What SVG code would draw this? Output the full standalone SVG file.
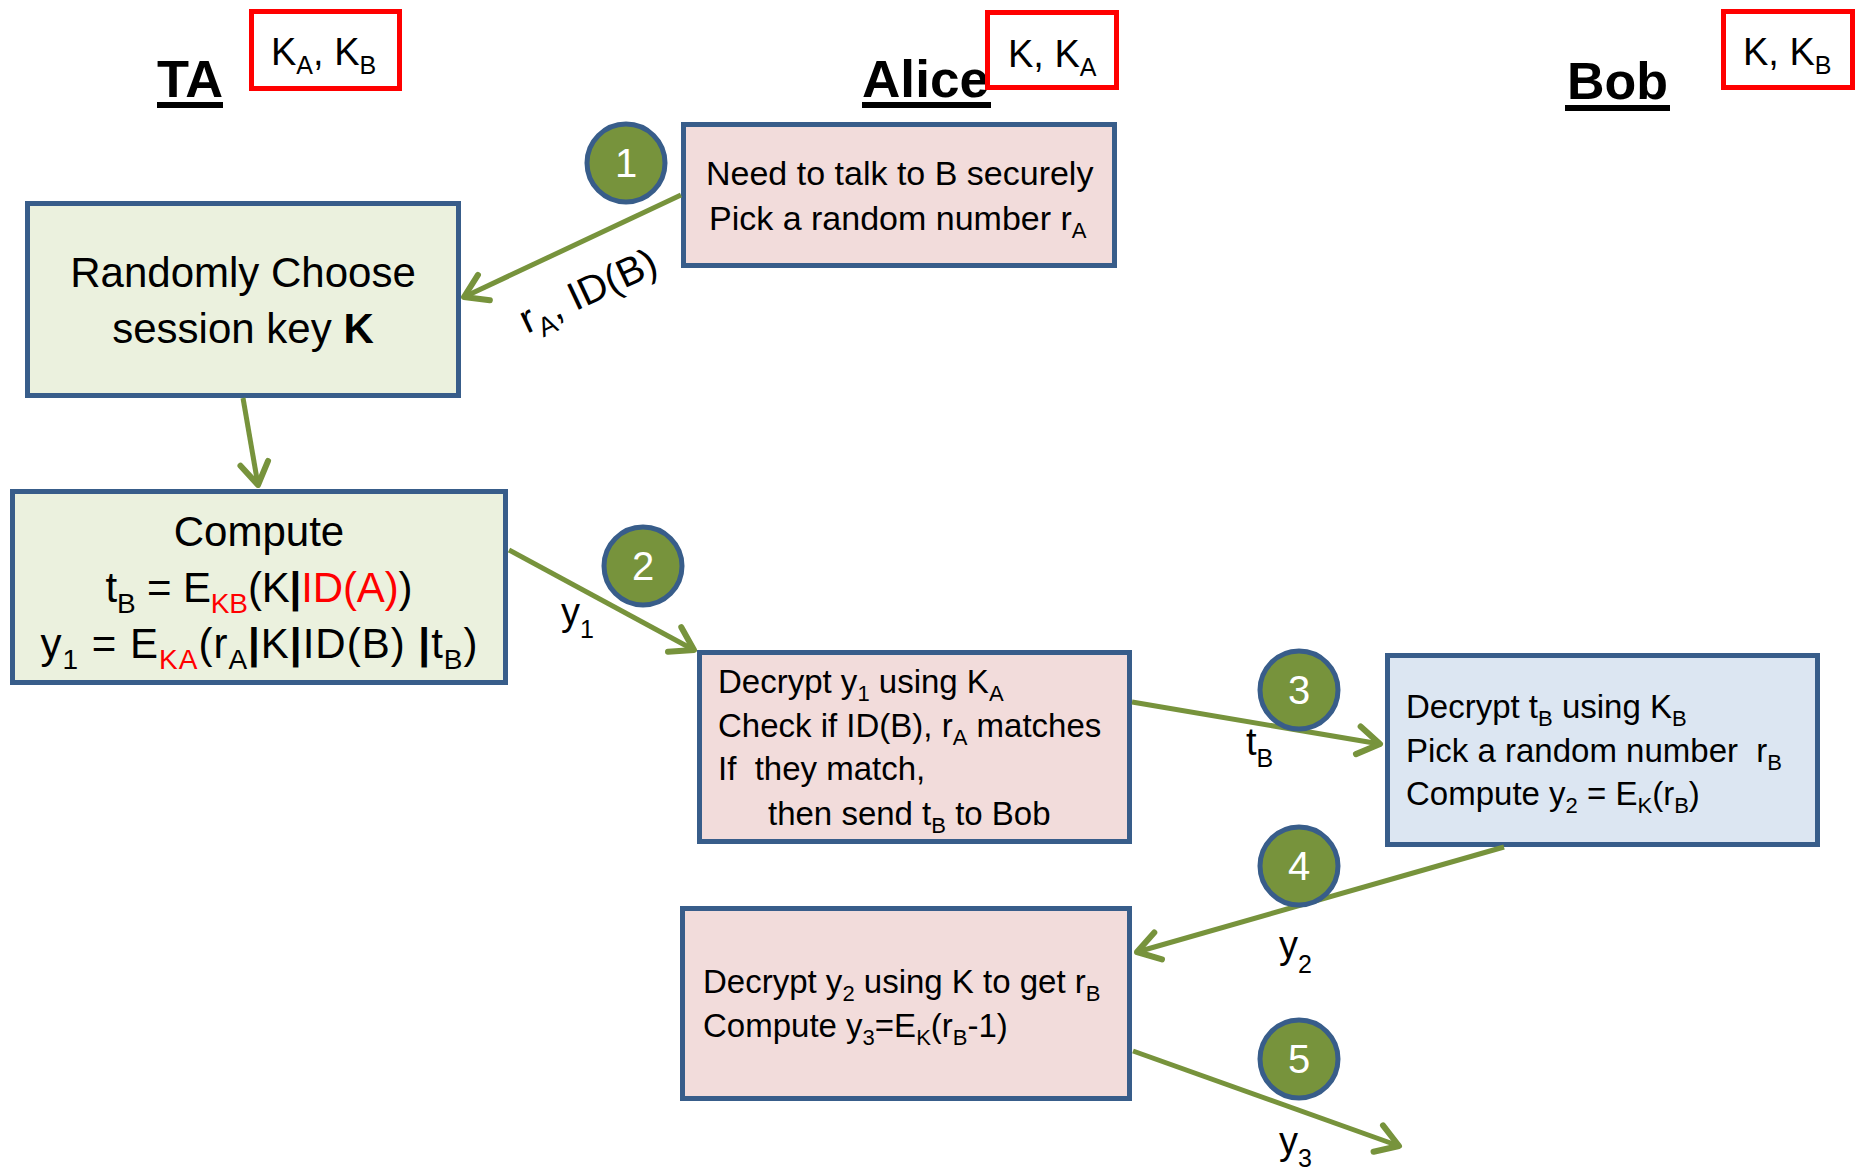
<svg xmlns="http://www.w3.org/2000/svg" width="1860" height="1170" viewBox="0 0 1860 1170">
  <style>
    text { font-family: "Liberation Sans", Arial, sans-serif; fill: #000; }
    .title { font-size: 52px; font-weight: bold; }
    .key { font-size: 38px; }
    .keysub { font-size: 25px; }
    .big { font-size: 42px; }
    .bigsub { font-size: 28px; }
    .body { font-size: 33px; }
    .body34 { font-size: 34px; }
    .sub { font-size: 22px; }
    .lbl { font-size: 38px; }
    .lblsub { font-size: 25px; }
    .diag { font-size: 40px; }
    .diagsub { font-size: 27px; }
    .red { fill: #FF0000; }
    .bar { font-weight: bold; }
    .num { font-size: 40px; fill: #FFFFFF; text-anchor: middle; }
    .keybox { fill: #FFFFFF; stroke: #FF0000; stroke-width: 5; }
    .box { stroke: #385D8A; stroke-width: 5; }
    .ta { fill: #EBF1DE; }
    .alice { fill: #F2DCDB; }
    .bob { fill: #DCE6F2; }
    .step { fill: #77933C; stroke: #385D8A; stroke-width: 5; }
    .flow { fill: none; stroke: #77933C; stroke-width: 5; marker-end: url(#arr); }
  </style>
  <defs>
    <marker id="arr" markerUnits="userSpaceOnUse" viewBox="-30 -20 36 40" refX="0" refY="0" markerWidth="36" markerHeight="40" orient="auto" overflow="visible">
      <path d="M-22,-14 L0,0 L-22,14" fill="none" stroke="#77933C" stroke-width="6" stroke-linecap="round" stroke-linejoin="round"/>
    </marker>
  </defs>

  <rect width="1860" height="1170" fill="#FFFFFF"/>

  <!-- party headings -->
  <g id="heading-ta">
    <text class="title" x="157" y="97" textLength="66" lengthAdjust="spacingAndGlyphs">TA</text>
    <rect x="157" y="102" width="66" height="6" fill="#000"/>
  </g>
  <g id="heading-alice">
    <text class="title" x="862" y="97" textLength="127" lengthAdjust="spacingAndGlyphs">Alice</text>
    <rect x="862" y="102" width="129" height="6" fill="#000"/>
  </g>
  <g id="heading-bob">
    <text class="title" x="1567" y="99" textLength="101" lengthAdjust="spacingAndGlyphs">Bob</text>
    <rect x="1565" y="105" width="105" height="6" fill="#000"/>
  </g>

  <!-- keys held by each party -->
  <g id="keys-ta">
    <rect class="keybox" x="251.5" y="11.5" width="148" height="77"/>
    <text class="key" x="271" y="65">K<tspan class="keysub" dy="9">A</tspan><tspan dy="-9">, K</tspan><tspan class="keysub" dy="9">B</tspan></text>
  </g>
  <g id="keys-alice">
    <rect class="keybox" x="987.5" y="12.5" width="129" height="75"/>
    <text class="key" x="1008" y="67">K, K<tspan class="keysub" dy="9">A</tspan></text>
  </g>
  <g id="keys-bob">
    <rect class="keybox" x="1723.5" y="11.5" width="129" height="76"/>
    <text class="key" x="1743" y="65">K, K<tspan class="keysub" dy="9">B</tspan></text>
  </g>

  <!-- process boxes -->
  <g id="ta-choose">
    <rect class="box ta" x="27.5" y="203.5" width="431" height="192"/>
    <text class="big" x="243" y="287" text-anchor="middle">Randomly Choose</text>
    <text class="big" x="243" y="343" text-anchor="middle">session key <tspan font-weight="bold">K</tspan></text>
  </g>

  <g id="ta-compute">
    <rect class="box ta" x="12.5" y="491.5" width="493" height="191"/>
    <text class="big" x="259" y="546" text-anchor="middle">Compute</text>
    <text class="big" x="259" y="602" text-anchor="middle" textLength="307" lengthAdjust="spacing">t<tspan class="bigsub" dy="11">B</tspan><tspan dy="-11"> = E</tspan><tspan class="bigsub red" dy="11">KB</tspan><tspan dy="-11">(K</tspan><tspan class="bar">|</tspan><tspan class="red">ID(A)</tspan>)</text>
    <text class="big" x="259" y="658" text-anchor="middle" textLength="437" lengthAdjust="spacing">y<tspan class="bigsub" dy="11">1</tspan><tspan dy="-11"> = E</tspan><tspan class="bigsub red" dy="11">KA</tspan><tspan dy="-11">(r</tspan><tspan class="bigsub" dy="11">A</tspan><tspan class="bar" dy="-11">|</tspan>K<tspan class="bar">|</tspan>ID(B) <tspan class="bar">|</tspan>t<tspan class="bigsub" dy="11">B</tspan><tspan dy="-11">)</tspan></text>
  </g>

  <g id="alice-request">
    <rect class="box alice" x="683.5" y="124.5" width="431" height="141"/>
    <text class="body34" x="706" y="185">Need to talk to B securely</text>
    <text class="body34" x="709" y="230">Pick a random number r<tspan class="sub" dy="8">A</tspan></text>
  </g>

  <g id="alice-check">
    <rect class="box alice" x="699.5" y="652.5" width="430" height="189"/>
    <text class="body" x="718" y="693">Decrypt y<tspan class="sub" dy="8">1</tspan><tspan dy="-8"> using K</tspan><tspan class="sub" dy="8">A</tspan></text>
    <text class="body" x="718" y="737">Check if ID(B), r<tspan class="sub" dy="8">A</tspan><tspan dy="-8"> matches</tspan></text>
    <text class="body" x="718" y="780" xml:space="preserve">If  they match,</text>
    <text class="body" x="768" y="825">then send t<tspan class="sub" dy="8">B</tspan><tspan dy="-8"> to Bob</tspan></text>
  </g>

  <g id="bob-respond">
    <rect class="box bob" x="1387.5" y="655.5" width="430" height="189"/>
    <text class="body" x="1406" y="718">Decrypt t<tspan class="sub" dy="8">B</tspan><tspan dy="-8"> using K</tspan><tspan class="sub" dy="8">B</tspan></text>
    <text class="body" x="1406" y="762" xml:space="preserve">Pick a random number  r<tspan class="sub" dy="8">B</tspan></text>
    <text class="body" x="1406" y="805">Compute y<tspan class="sub" dy="8">2</tspan><tspan dy="-8"> = E</tspan><tspan class="sub" dy="8">K</tspan><tspan dy="-8">(r</tspan><tspan class="sub" dy="8">B</tspan><tspan dy="-8">)</tspan></text>
  </g>

  <g id="alice-confirm">
    <rect class="box alice" x="682.5" y="908.5" width="447" height="190"/>
    <text class="body" x="703" y="993">Decrypt y<tspan class="sub" dy="8">2</tspan><tspan dy="-8"> using K to get r</tspan><tspan class="sub" dy="8">B</tspan></text>
    <text class="body" x="703" y="1037">Compute y<tspan class="sub" dy="8">3</tspan><tspan dy="-8">=E</tspan><tspan class="sub" dy="8">K</tspan><tspan dy="-8">(r</tspan><tspan class="sub" dy="8">B</tspan><tspan dy="-8">-1)</tspan></text>
  </g>

  <!-- message flow -->
  <g id="connectors">
    <line class="flow" x1="681" y1="195" x2="464" y2="297"/>
    <line class="flow" x1="243" y1="398" x2="258" y2="485"/>
    <line class="flow" x1="509" y1="550" x2="694" y2="650"/>
    <line class="flow" x1="1132" y1="702" x2="1380" y2="744"/>
    <line class="flow" x1="1504" y1="847" x2="1137" y2="952"/>
    <line class="flow" x1="1133" y1="1051" x2="1399" y2="1146"/>

    <text class="diag" transform="translate(527 334) rotate(-25)">r<tspan class="diagsub" dy="10">A</tspan><tspan dy="-10">, ID(B)</tspan></text>
    <text class="lbl" x="561" y="625">y<tspan class="lblsub" dy="13">1</tspan></text>
    <text class="lbl" x="1246" y="755">t<tspan class="lblsub" dy="12">B</tspan></text>
    <text class="lbl" x="1279" y="958">y<tspan class="lblsub" dy="15">2</tspan></text>
    <text class="lbl" x="1279" y="1154">y<tspan class="lblsub" dy="13">3</tspan></text>
  </g>

  <!-- step numbers -->
  <g id="step-1"><circle class="step" cx="626" cy="163" r="39"/><text class="num" x="626" y="177">1</text></g>
  <g id="step-2"><circle class="step" cx="643" cy="566" r="39"/><text class="num" x="643" y="580">2</text></g>
  <g id="step-3"><circle class="step" cx="1299" cy="690" r="39"/><text class="num" x="1299" y="704">3</text></g>
  <g id="step-4"><circle class="step" cx="1299" cy="866" r="39"/><text class="num" x="1299" y="880">4</text></g>
  <g id="step-5"><circle class="step" cx="1299" cy="1059" r="39"/><text class="num" x="1299" y="1073">5</text></g>
</svg>
